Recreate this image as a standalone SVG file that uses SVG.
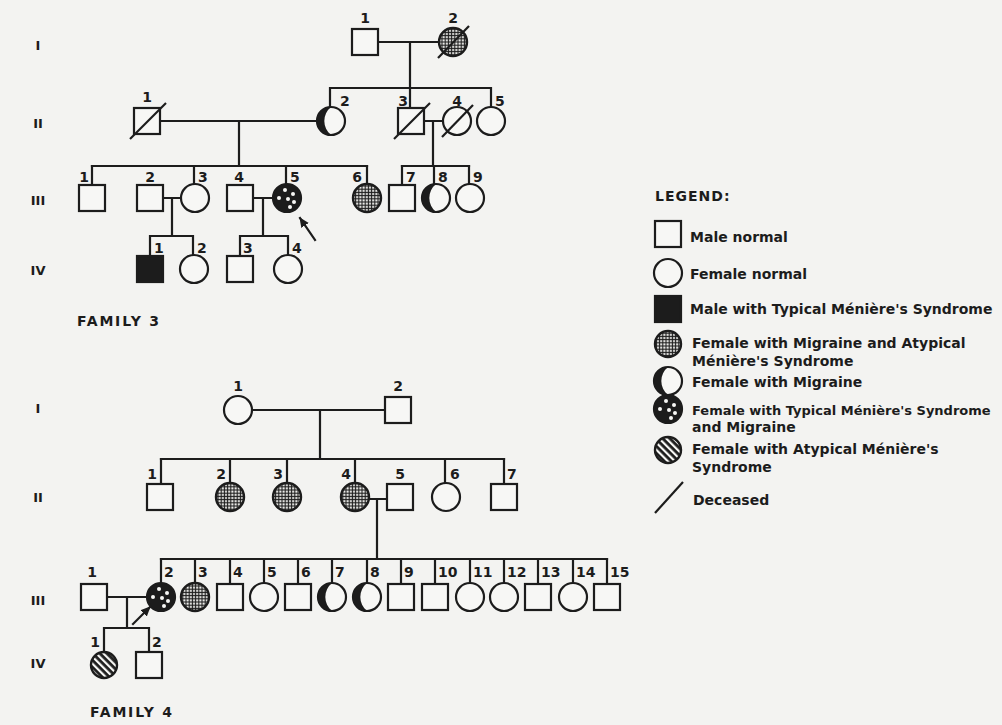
<svg xmlns="http://www.w3.org/2000/svg" width="1002" height="725" viewBox="0 0 1002 725">
<style>
.bg{fill:#f3f3f1}
.ln{stroke:#1c1c1c;stroke-width:2.2;fill:none;stroke-linecap:square}
.nd{stroke:#1c1c1c;stroke-width:2.2;fill:#f7f7f5}
.fl{fill:#1c1c1c;stroke:#1c1c1c;stroke-width:2.2}
.gr{fill:url(#grid);stroke:#1c1c1c;stroke-width:2.4}
.st{fill:url(#stripe);stroke:#1c1c1c;stroke-width:2.4}
.dk{fill:#1c1c1c}
.wd{fill:#f7f7f5}
.sl{stroke:#1c1c1c;stroke-width:2.2;fill:none}
.n{font-family:"DejaVu Sans","Liberation Sans",sans-serif;font-weight:bold;font-size:14px;fill:#1c1c1c}
.r{font-family:"DejaVu Sans","Liberation Sans",sans-serif;font-weight:bold;font-size:13px;fill:#1c1c1c;text-anchor:middle}
.c{text-anchor:middle}
.e{text-anchor:end}
.lg{font-family:"DejaVu Sans","Liberation Sans",sans-serif;font-weight:bold;font-size:14px;fill:#1c1c1c}
.fam{font-family:"DejaVu Sans","Liberation Sans",sans-serif;font-weight:bold;font-size:14px;fill:#1c1c1c;letter-spacing:1.8px}
</style>
<defs>
<pattern id="grid" width="3.2" height="3.2" patternUnits="userSpaceOnUse">
<rect width="3.2" height="3.2" fill="#1c1c1c"/>
<rect x="1" y="1" width="2" height="2" fill="#f7f7f5"/>
</pattern>
<pattern id="stripe" width="5" height="5" patternUnits="userSpaceOnUse" patternTransform="rotate(-45)">
<rect width="5" height="5" fill="#1c1c1c"/>
<rect width="2.2" height="5" fill="#f7f7f5"/>
</pattern>
<marker id="arr" markerWidth="12" markerHeight="12" refX="9" refY="5" orient="auto" markerUnits="userSpaceOnUse">
<path d="M0,0.5 L10,5 L0,9.5 Z" fill="#1c1c1c"/>
</marker>
<g id="dots">
<circle r="14" class="fl"/>
<circle cx="-2" cy="-8" r="2" class="wd"/>
<circle cx="6" cy="-4" r="2" class="wd"/>
<circle cx="-8" cy="0" r="2" class="wd"/>
<circle cx="1" cy="1" r="2" class="wd"/>
<circle cx="7" cy="4" r="2" class="wd"/>
<circle cx="3" cy="9" r="2" class="wd"/>
</g>
<g id="cres">
<circle r="14" class="nd"/>
<path d="M0,-14 A14,14 0 0 0 0,14 A18,18 0 0 1 0,-14 Z" class="dk"/>
</g>
</defs>
<rect class="bg" width="1002" height="725"/>

<g id="connectors">
<path class="ln" d="M378,42 H439 M410,42 V88 M330,88 H491 M330,88 V107 M410,88 V108 M491,88 V107"/>
<path class="ln" d="M160,121 H317 M239,121 V166 M92,166 H367 M424,121 H443 M433,121 V166 M402,166 H469"/>
<path class="ln" d="M92,166 V185 M194,166 V184 M286,166 V184 M367,166 V184 M402,166 V185 M434,166 V184 M469,166 V184"/>
<path class="ln" d="M163,198 H181 M172,198 V236 M150,236 H193 M150,236 V256 M193,236 V255"/>
<path class="ln" d="M253,198 H273 M263,198 V236 M240,236 H288 M240,236 V256 M288,236 V255"/>
<path class="ln" d="M315,240 L300,218" marker-end="url(#arr)"/>
<path class="ln" d="M252,410 H385 M320,410 V459 M161,459 H504"/>
<path class="ln" d="M161,459 V484 M230,459 V483 M287,459 V483 M355,459 V483 M445,459 V483 M504,459 V484"/>
<path class="ln" d="M369,499 H387 M377,499 V559 M161,559 H607"/>
<path class="ln" d="M161,559 V583 M195,559 V583 M230,559 V584 M264,559 V583 M298,559 V584 M332,559 V583 M367,559 V583 M401,559 V584 M435,559 V584 M470,559 V583 M504,559 V583 M538,559 V584 M573,559 V583 M607,559 V584"/>
<path class="ln" d="M107,597 H147 M127,597 V628 M104,628 H149 M104,628 V651 M149,628 V652"/>
<path class="ln" d="M133,624 L150,607" marker-end="url(#arr)"/>
</g>

<g id="gen-labels">
<text class="r" x="38" y="50">I</text>
<text class="r" x="38" y="128">II</text>
<text class="r" x="38" y="205">III</text>
<text class="r" x="38" y="275">IV</text>
<text class="r" x="38" y="413">I</text>
<text class="r" x="38" y="502">II</text>
<text class="r" x="38" y="605">III</text>
<text class="r" x="38" y="668">IV</text>
</g>

<g id="f3-I-1"><rect class="nd" x="352" y="29" width="26" height="26"/><text class="n c" x="365" y="23">1</text></g>
<g id="f3-I-2"><circle class="gr" cx="453" cy="42" r="14"/><line class="sl" x1="438" y1="58" x2="469" y2="26"/><text class="n c" x="453" y="23">2</text></g>
<g id="f3-II-1"><rect class="nd" x="134" y="108" width="26" height="26"/><line class="sl" x1="130" y1="139" x2="166" y2="103"/><text class="n c" x="147" y="102">1</text></g>
<g id="f3-II-2"><use href="#cres" x="331" y="121"/><text class="n" x="340" y="106">2</text></g>
<g id="f3-II-3"><rect class="nd" x="398" y="108" width="26" height="26"/><line class="sl" x1="394" y1="139" x2="430" y2="103"/><text class="n e" x="408" y="106">3</text></g>
<g id="f3-II-4"><circle class="nd" cx="457" cy="121" r="14"/><line class="sl" x1="442" y1="137" x2="473" y2="105"/><text class="n c" x="457" y="106">4</text></g>
<g id="f3-II-5"><circle class="nd" cx="491" cy="121" r="14"/><text class="n" x="495" y="106">5</text></g>
<g id="f3-III-1"><rect class="nd" x="79" y="185" width="26" height="26"/><text class="n e" x="89" y="182">1</text></g>
<g id="f3-III-2"><rect class="nd" x="137" y="185" width="26" height="26"/><text class="n c" x="150" y="182">2</text></g>
<g id="f3-III-3"><circle class="nd" cx="195" cy="198" r="14"/><text class="n" x="198" y="182">3</text></g>
<g id="f3-III-4"><rect class="nd" x="227" y="185" width="26" height="26"/><text class="n c" x="239" y="182">4</text></g>
<g id="f3-III-5"><use href="#dots" x="287" y="198"/><text class="n" x="290" y="182">5</text></g>
<g id="f3-III-6"><circle class="gr" cx="367" cy="198" r="14"/><text class="n e" x="362" y="182">6</text></g>
<g id="f3-III-7"><rect class="nd" x="389" y="185" width="26" height="26"/><text class="n" x="406" y="182">7</text></g>
<g id="f3-III-8"><use href="#cres" x="436" y="198"/><text class="n" x="438" y="182">8</text></g>
<g id="f3-III-9"><circle class="nd" cx="470" cy="198" r="14"/><text class="n" x="473" y="182">9</text></g>
<g id="f3-IV-1"><rect class="fl" x="137" y="256" width="26" height="26"/><text class="n" x="154" y="253">1</text></g>
<g id="f3-IV-2"><circle class="nd" cx="194" cy="269" r="14"/><text class="n" x="197" y="253">2</text></g>
<g id="f3-IV-3"><rect class="nd" x="227" y="256" width="26" height="26"/><text class="n" x="243" y="253">3</text></g>
<g id="f3-IV-4"><circle class="nd" cx="288" cy="269" r="14"/><text class="n" x="292" y="253">4</text></g>
<text class="fam" x="77" y="326">FAMILY 3</text>

<g id="legend">
<text class="lg" x="655" y="201" style="letter-spacing:1px">LEGEND:</text>
<rect class="nd" x="655" y="221" width="26" height="26"/>
<text class="lg" x="690" y="242">Male normal</text>
<circle class="nd" cx="668" cy="273" r="14"/>
<text class="lg" x="690" y="279">Female normal</text>
<rect class="fl" x="655" y="296" width="26" height="26"/>
<text class="lg" x="690" y="314">Male with Typical Ménière's Syndrome</text>
<circle class="gr" cx="668" cy="344" r="13"/>
<text class="lg" x="692" y="348">Female with Migraine and Atypical</text>
<text class="lg" x="692" y="366">Ménière's Syndrome</text>
<use href="#cres" x="668" y="381"/>
<text class="lg" x="692" y="387">Female with Migraine</text>
<use href="#dots" x="668" y="409"/>
<text class="lg" x="692" y="415" style="font-size:13px">Female with Typical Ménière's Syndrome</text>
<text class="lg" x="692" y="432">and Migraine</text>
<circle class="st" cx="668" cy="450" r="13"/>
<text class="lg" x="692" y="454">Female with Atypical Ménière's</text>
<text class="lg" x="692" y="472">Syndrome</text>
<line class="sl" x1="655" y1="513" x2="683" y2="482"/>
<text class="lg" x="693" y="505">Deceased</text>
</g>

<g id="f4-I-1"><circle class="nd" cx="238" cy="410" r="14"/><text class="n c" x="238" y="391">1</text></g>
<g id="f4-I-2"><rect class="nd" x="385" y="397" width="26" height="26"/><text class="n c" x="398" y="391">2</text></g>
<g id="f4-II-1"><rect class="nd" x="147" y="484" width="26" height="26"/><text class="n e" x="157" y="479">1</text></g>
<g id="f4-II-2"><circle class="gr" cx="230" cy="497" r="14"/><text class="n e" x="226" y="479">2</text></g>
<g id="f4-II-3"><circle class="gr" cx="287" cy="497" r="14"/><text class="n e" x="283" y="479">3</text></g>
<g id="f4-II-4"><circle class="gr" cx="355" cy="497" r="14"/><text class="n e" x="351" y="479">4</text></g>
<g id="f4-II-5"><rect class="nd" x="387" y="484" width="26" height="26"/><text class="n c" x="400" y="479">5</text></g>
<g id="f4-II-6"><circle class="nd" cx="446" cy="497" r="14"/><text class="n" x="450" y="479">6</text></g>
<g id="f4-II-7"><rect class="nd" x="491" y="484" width="26" height="26"/><text class="n" x="507" y="479">7</text></g>
<g id="f4-III-1"><rect class="nd" x="81" y="584" width="26" height="26"/><text class="n c" x="92" y="577">1</text></g>
<g id="f4-III-2"><use href="#dots" x="161" y="597"/><text class="n" x="164" y="577">2</text></g>
<g id="f4-III-3"><circle class="gr" cx="195" cy="597" r="14"/><text class="n" x="198" y="577">3</text></g>
<g id="f4-III-4"><rect class="nd" x="217" y="584" width="26" height="26"/><text class="n" x="233" y="577">4</text></g>
<g id="f4-III-5"><circle class="nd" cx="264" cy="597" r="14"/><text class="n" x="267" y="577">5</text></g>
<g id="f4-III-6"><rect class="nd" x="285" y="584" width="26" height="26"/><text class="n" x="301" y="577">6</text></g>
<g id="f4-III-7"><use href="#cres" x="332" y="597"/><text class="n" x="335" y="577">7</text></g>
<g id="f4-III-8"><use href="#cres" x="367" y="597"/><text class="n" x="370" y="577">8</text></g>
<g id="f4-III-9"><rect class="nd" x="388" y="584" width="26" height="26"/><text class="n" x="404" y="577">9</text></g>
<g id="f4-III-10"><rect class="nd" x="422" y="584" width="26" height="26"/><text class="n" x="438" y="577">10</text></g>
<g id="f4-III-11"><circle class="nd" cx="470" cy="597" r="14"/><text class="n" x="473" y="577">11</text></g>
<g id="f4-III-12"><circle class="nd" cx="504" cy="597" r="14"/><text class="n" x="507" y="577">12</text></g>
<g id="f4-III-13"><rect class="nd" x="525" y="584" width="26" height="26"/><text class="n" x="541" y="577">13</text></g>
<g id="f4-III-14"><circle class="nd" cx="573" cy="597" r="14"/><text class="n" x="576" y="577">14</text></g>
<g id="f4-III-15"><rect class="nd" x="594" y="584" width="26" height="26"/><text class="n" x="610" y="577">15</text></g>
<g id="f4-IV-1"><circle class="st" cx="104" cy="665" r="13"/><text class="n e" x="100" y="647">1</text></g>
<g id="f4-IV-2"><rect class="nd" x="136" y="652" width="26" height="26"/><text class="n" x="152" y="647">2</text></g>
<text class="fam" x="90" y="717">FAMILY 4</text>
</svg>
